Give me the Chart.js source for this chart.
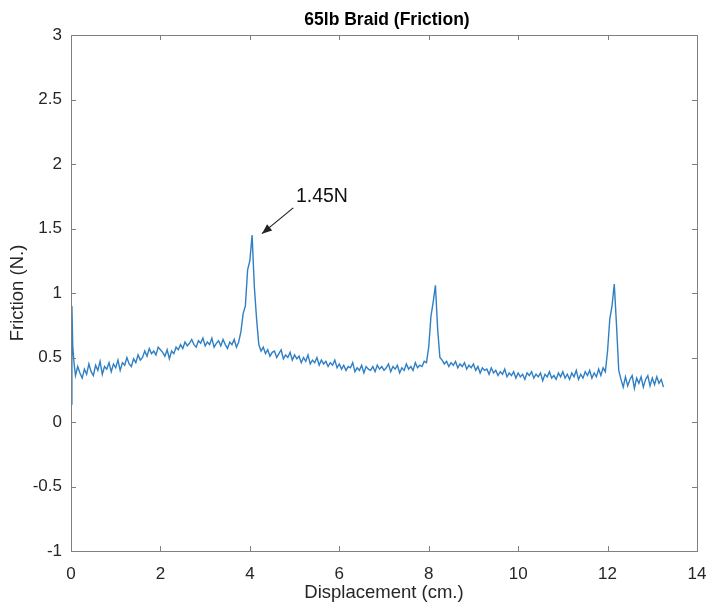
<!DOCTYPE html>
<html>
<head>
<meta charset="utf-8">
<script src="https://cdn.jsdelivr.net/npm/chart.js@4/dist/chart.umd.min.js"></script>
<style>
html,body{margin:0;padding:0;background:#fff;}
#wrap{width:710px;height:607px;}
</style>
</head>
<body>
<div id="wrap"><canvas id="c" width="710" height="607"></canvas></div>
<script>
const chartTitle = '65lb Braid (Friction)';
const xTitle = 'Displacement (cm.)';
const yTitle = 'Friction (N.)';

const displacement = [
0,0.02,0.04,0.07,0.1,0.15,0.2,0.25,0.3,0.35,0.4,0.45,0.5,0.55,0.6,0.65,0.7,0.75,0.8,0.85,0.9,0.95,
1,1.05,1.1,1.15,1.2,1.25,1.3,1.35,1.4,1.45,1.5,1.55,1.6,1.65,1.7,1.75,1.8,1.85,1.9,1.95,
2,2.05,2.1,2.15,2.2,2.25,2.3,2.35,2.4,2.45,2.5,2.55,2.6,2.65,2.7,2.75,2.8,2.85,2.9,2.95,
3,3.05,3.1,3.15,3.2,3.25,3.3,3.35,3.4,3.45,3.5,3.55,3.6,3.65,3.7,3.75,3.8,3.85,3.9,3.95,
4,4.05,4.1,4.15,4.2,4.25,4.3,4.35,4.4,4.45,4.5,4.55,4.6,4.65,4.7,4.75,4.8,4.85,4.9,4.95,
5,5.05,5.1,5.15,5.2,5.25,5.3,5.35,5.4,5.45,5.5,5.55,5.6,5.65,5.7,5.75,5.8,5.85,5.9,5.95,
6,6.05,6.1,6.15,6.2,6.25,6.3,6.35,6.4,6.45,6.5,6.55,6.6,6.65,6.7,6.75,6.8,6.85,6.9,6.95,
7,7.05,7.1,7.15,7.2,7.25,7.3,7.35,7.4,7.45,7.5,7.55,7.6,7.65,7.7,7.75,7.8,7.85,7.9,7.95,
8,8.05,8.1,8.15,8.2,8.25,8.3,8.35,8.4,8.45,8.5,8.55,8.6,8.65,8.7,8.75,8.8,8.85,8.9,8.95,
9,9.05,9.1,9.15,9.2,9.25,9.3,9.35,9.4,9.45,9.5,9.55,9.6,9.65,9.7,9.75,9.8,9.85,9.9,9.95,
10,10.05,10.1,10.15,10.2,10.25,10.3,10.35,10.4,10.45,10.5,10.55,10.6,10.65,10.7,10.75,10.8,10.85,10.9,10.95,
11,11.05,11.1,11.15,11.2,11.25,11.3,11.35,11.4,11.45,11.5,11.55,11.6,11.65,11.7,11.75,11.8,11.85,11.9,11.95,
12,12.05,12.1,12.15,12.2,12.25,12.3,12.35,12.4,12.45,12.5,12.55,12.6,12.65,12.7,12.75,12.8,12.85,12.9,12.95,
13,13.05,13.1,13.15,13.2,13.25
];

const friction = [
0.14,0.90,0.58,0.45,0.36,0.43,0.38,0.34,0.41,0.37,0.45,0.39,0.36,0.44,0.40,0.47,0.37,0.43,0.41,0.46,0.39,0.45,
0.42,0.48,0.40,0.46,0.44,0.50,0.45,0.43,0.49,0.46,0.52,0.48,0.50,0.55,0.51,0.57,0.53,0.55,0.52,0.58,
0.56,0.54,0.51,0.56,0.49,0.55,0.53,0.58,0.56,0.60,0.57,0.62,0.59,0.61,0.64,0.60,0.58,0.63,0.61,0.65,
0.59,0.62,0.60,0.65,0.58,0.61,0.63,0.59,0.64,0.60,0.57,0.62,0.60,0.64,0.58,0.62,0.70,0.84,0.90,1.18,
1.25,1.45,1.05,0.80,0.60,0.55,0.58,0.53,0.56,0.51,0.54,0.55,0.50,0.53,0.56,0.49,0.52,0.50,0.54,0.48,
0.52,0.49,0.51,0.46,0.50,0.47,0.52,0.45,0.48,0.46,0.50,0.44,0.48,0.45,0.47,0.43,0.46,0.44,0.48,0.42,
0.45,0.41,0.44,0.40,0.43,0.42,0.46,0.39,0.42,0.40,0.44,0.38,0.43,0.41,0.40,0.43,0.39,0.44,0.41,0.43,
0.40,0.42,0.45,0.39,0.43,0.41,0.44,0.38,0.42,0.40,0.45,0.41,0.43,0.40,0.46,0.42,0.44,0.43,0.47,0.46,
0.58,0.82,0.93,1.06,0.72,0.50,0.48,0.45,0.47,0.43,0.46,0.44,0.47,0.42,0.45,0.43,0.46,0.41,0.44,0.42,
0.45,0.40,0.43,0.38,0.42,0.40,0.41,0.37,0.42,0.38,0.40,0.36,0.39,0.37,0.41,0.35,0.38,0.36,0.39,0.34,
0.38,0.35,0.37,0.33,0.38,0.36,0.39,0.34,0.37,0.35,0.38,0.32,0.37,0.35,0.39,0.34,0.36,0.33,0.38,0.35,
0.39,0.34,0.37,0.33,0.38,0.35,0.40,0.33,0.37,0.34,0.39,0.36,0.40,0.34,0.38,0.35,0.41,0.36,0.42,0.39,
0.55,0.80,0.90,1.07,0.75,0.40,0.33,0.27,0.35,0.28,0.33,0.36,0.26,0.34,0.30,0.35,0.27,0.33,0.36,0.28,
0.34,0.29,0.35,0.30,0.33,0.27
];

const annotationText = '1.45N';
const arrowTip = [4.27, 1.46];
const arrowTail = [4.97, 1.66];
const annotationAnchor = [5.03, 1.75];

const points = displacement.map((x, i) => ({x: x, y: friction[i]}));

const TEXT = '#262626';
const AXIS = '#808080';
const FONT = "'Liberation Sans', Arial, Helvetica, sans-serif";

const boxPlugin = {
  id: 'matlabBox',
  afterDraw(chart) {
    const ctx = chart.ctx;
    const a = chart.chartArea;
    const xs = chart.scales.x, ys = chart.scales.y;
    ctx.save();
    ctx.strokeStyle = AXIS;
    ctx.lineWidth = 1;
    ctx.strokeRect(Math.round(a.left) + 0.5, Math.round(a.top) + 0.5,
      Math.round(a.right - a.left), Math.round(a.bottom - a.top));
    const tl = 5;
    ctx.beginPath();
    xs.ticks.forEach(t => {
      const px = Math.round(xs.getPixelForValue(t.value)) + 0.5;
      ctx.moveTo(px, a.bottom); ctx.lineTo(px, a.bottom - tl);
      ctx.moveTo(px, a.top); ctx.lineTo(px, a.top + tl);
    });
    ys.ticks.forEach(t => {
      const py = Math.round(ys.getPixelForValue(t.value)) + 0.5;
      ctx.moveTo(a.left, py); ctx.lineTo(a.left + tl, py);
      ctx.moveTo(a.right, py); ctx.lineTo(a.right - tl, py);
    });
    ctx.stroke();

    ctx.fillStyle = '#000';
    ctx.font = 'bold 17.5px ' + FONT;
    ctx.textAlign = 'center';
    ctx.textBaseline = 'middle';
    ctx.fillText(chartTitle, (a.left + a.right) / 2 + 3, 20);

    const tx = xs.getPixelForValue(arrowTip[0]), ty = ys.getPixelForValue(arrowTip[1]);
    const sx = xs.getPixelForValue(arrowTail[0]), sy = ys.getPixelForValue(arrowTail[1]);
    ctx.strokeStyle = '#222';
    ctx.fillStyle = '#222';
    ctx.lineWidth = 1.2;
    ctx.beginPath();
    ctx.moveTo(sx, sy); ctx.lineTo(tx, ty);
    ctx.stroke();
    const ang = Math.atan2(ty - sy, tx - sx);
    const hl = 10, hw = 4;
    ctx.beginPath();
    ctx.moveTo(tx, ty);
    ctx.lineTo(tx - hl * Math.cos(ang) + hw * Math.sin(ang), ty - hl * Math.sin(ang) - hw * Math.cos(ang));
    ctx.lineTo(tx - hl * Math.cos(ang) - hw * Math.sin(ang), ty - hl * Math.sin(ang) + hw * Math.cos(ang));
    ctx.closePath();
    ctx.fill();
    ctx.fillStyle = '#111';
    ctx.font = '19.5px ' + FONT;
    ctx.textAlign = 'left';
    ctx.fillText(annotationText, xs.getPixelForValue(annotationAnchor[0]), ys.getPixelForValue(annotationAnchor[1]));
    ctx.restore();
  }
};

new Chart(document.getElementById('c'), {
  type: 'line',
  data: {
    datasets: [{
      data: points,
      borderColor: '#2f7fc4',
      borderWidth: 1.4,
      pointRadius: 0,
      tension: 0,
      fill: false
    }]
  },
  options: {
    responsive: false,
    animation: false,
    events: [],
    layout: { padding: { left: 0, right: 13, top: 35, bottom: 0 } },
    plugins: { legend: { display: false }, tooltip: { enabled: false }, title: { display: false } },
    scales: {
      x: {
        type: 'linear', min: 0, max: 14,
        afterFit(s) { s.height = 56; s.paddingLeft = 0; s.paddingRight = 0; },
        grid: { display: false, drawTicks: false },
        border: { display: false },
        ticks: { stepSize: 2, padding: 13, color: TEXT, font: { family: FONT, size: 17 }, maxRotation: 0,
          callback: v => String(v) },
        title: { display: true, text: xTitle, color: TEXT, font: { family: FONT, size: 18.5 }, padding: { top: 3, bottom: 3 } }
      },
      y: {
        type: 'linear', min: -1, max: 3,
        afterFit(s) { s.width = 71; s.paddingTop = 0; s.paddingBottom = 0; },
        grid: { display: false, drawTicks: false },
        border: { display: false },
        ticks: { stepSize: 0.5, padding: 9, color: TEXT, font: { family: FONT, size: 17 },
          callback: v => String(v) },
        title: { display: true, text: yTitle, color: TEXT, font: { family: FONT, size: 18.5 }, padding: { top: 7, bottom: 4 } }
      }
    }
  },
  plugins: [boxPlugin]
});
</script>
</body>
</html>
